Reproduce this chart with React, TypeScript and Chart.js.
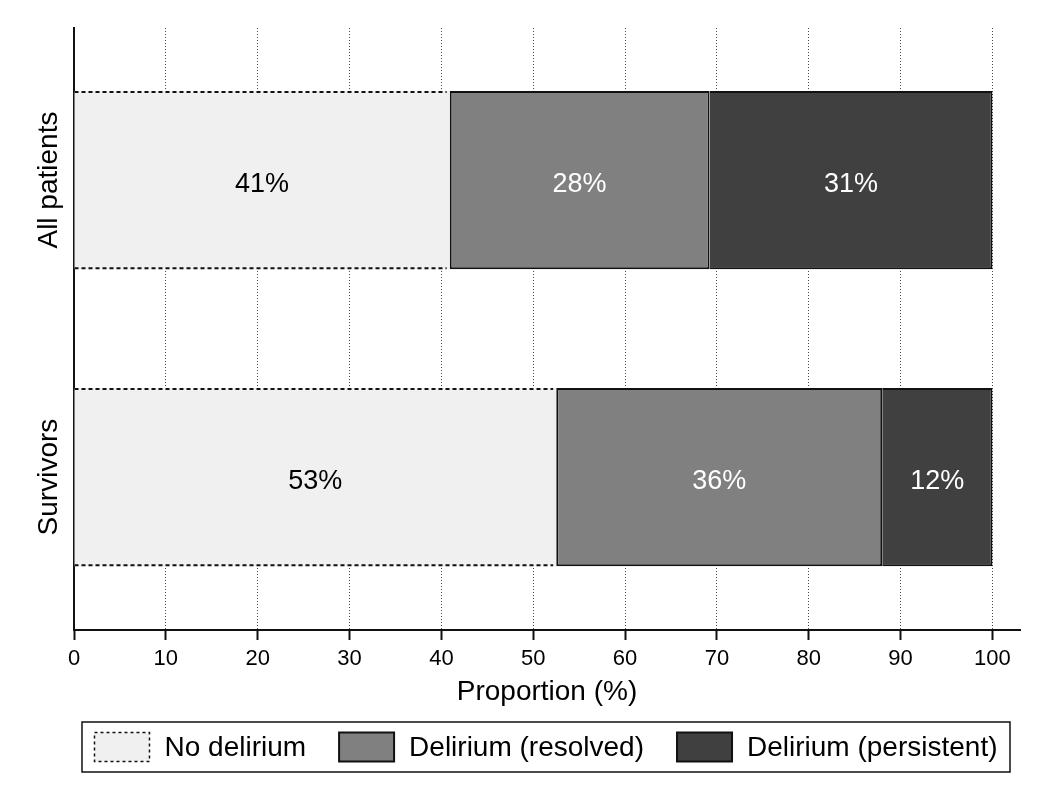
import React, { useEffect, useRef } from 'react';
import { Chart, registerables } from 'chart.js';

Chart.register(...registerables);

const categories = ['All patients', 'Survivors'];
const seriesNames = ['No delirium', 'Delirium (resolved)', 'Delirium (persistent)'];
const noDelirium = [40.9, 52.5];
const resolved = [28.3, 35.5];
const persistent = [30.8, 12.0];
const xTickValues = [0, 10, 20, 30, 40, 50, 60, 70, 80, 90, 100];
const seriesColors = ['#f0f0f0', '#808080', '#404040'];
const labelColors = ['#000000', '#ffffff', '#ffffff'];

const FONT = "'Liberation Sans', Arial, Helvetica, sans-serif";
const INK = '#111111';

const dashedBarPlugin = {
  id: 'dashedBar',
  afterDatasetsDraw(chart: any) {
    const ctx = chart.ctx;
    const meta = chart.getDatasetMeta(0);
    ctx.save();
    ctx.strokeStyle = INK;
    ctx.lineWidth = 2;
    ctx.setLineDash([4, 3]);
    meta.data.forEach((el: any) => {
      const p = el.getProps(['x', 'y', 'base', 'height'], true);
      const top = p.y - p.height / 2 + 1;
      const bot = p.y + p.height / 2 - 1;
      const left = Math.min(p.base, p.x);
      const right = Math.max(p.base, p.x) - 3;
      ctx.beginPath();
      ctx.moveTo(left, top);
      ctx.lineTo(right, top);
      ctx.moveTo(left, bot);
      ctx.lineTo(right, bot);
      ctx.stroke();
    });
    ctx.restore();
  },
};

const valueLabelPlugin = {
  id: 'valueLabels',
  afterDatasetsDraw(chart: any) {
    const ctx = chart.ctx;
    ctx.save();
    ctx.font = `27px ${FONT}`;
    ctx.textAlign = 'center';
    ctx.textBaseline = 'middle';
    chart.data.datasets.forEach((ds: any, di: number) => {
      const meta = chart.getDatasetMeta(di);
      meta.data.forEach((el: any, i: number) => {
        const p = el.getProps(['x', 'y', 'base'], true);
        ctx.fillStyle = labelColors[di];
        ctx.fillText(Math.round(ds.data[i]) + '%', (p.x + p.base) / 2, p.y + 4);
      });
    });
    ctx.restore();
  },
};

const categoryLabelPlugin = {
  id: 'categoryLabels',
  afterDraw(chart: any) {
    const ctx = chart.ctx;
    const yScale = chart.scales.y;
    ctx.save();
    ctx.font = `28px ${FONT}`;
    ctx.fillStyle = '#000';
    ctx.textAlign = 'center';
    ctx.textBaseline = 'middle';
    categories.forEach((c, i) => {
      const y = yScale.getPixelForValue(i);
      ctx.save();
      ctx.translate(chart.chartArea.left - 25, y);
      ctx.rotate(-Math.PI / 2);
      ctx.fillText(c, 0, 0);
      ctx.restore();
    });
    ctx.restore();
  },
};

const boxLegendPlugin = {
  id: 'boxLegend',
  afterDraw(chart: any) {
    const ctx = chart.ctx;
    const area = chart.chartArea;
    const xScale = chart.scales.x;
    const left = area.left + 8;
    const right = area.right - 10;
    const top = xScale.bottom + 10;
    const height = 50;
    ctx.save();
    ctx.strokeStyle = INK;
    ctx.lineWidth = 1.5;
    ctx.setLineDash([]);
    ctx.strokeRect(left, top, right - left, height);

    ctx.font = `28px ${FONT}`;
    const boxW = 55;
    const boxH = 29;
    const textGap = 15;
    const itemGap = 33;
    const widths = chart.data.datasets.map((ds: any) => boxW + textGap + ctx.measureText(ds.label).width);
    const total = widths.reduce((a: number, b: number) => a + b, 0) + itemGap * (widths.length - 1);
    let x = (left + right) / 2 - total / 2;
    const cy = top + height / 2;
    chart.data.datasets.forEach((ds: any, i: number) => {
      ctx.fillStyle = ds.backgroundColor;
      ctx.fillRect(x, cy - boxH / 2, boxW, boxH);
      ctx.strokeStyle = INK;
      ctx.lineWidth = i === 0 ? 1.5 : 2;
      ctx.setLineDash(i === 0 ? [3, 3] : []);
      ctx.strokeRect(x, cy - boxH / 2, boxW, boxH);
      ctx.setLineDash([]);
      ctx.fillStyle = '#000';
      ctx.textAlign = 'left';
      ctx.textBaseline = 'middle';
      ctx.fillText(ds.label, x + boxW + textGap, cy + 1);
      x += widths[i] + itemGap;
    });
    ctx.restore();
  },
};

export default function App() {
  const canvasRef = useRef<HTMLCanvasElement | null>(null);

  useEffect(() => {
    if (!canvasRef.current) return;
    const chart = new Chart(canvasRef.current, {
      type: 'bar',
      data: {
        labels: categories,
        datasets: [
          {
            label: seriesNames[0],
            data: noDelirium,
            backgroundColor: seriesColors[0],
            borderWidth: 0,
            barPercentage: 0.6,
            categoryPercentage: 1,
          },
          {
            label: seriesNames[1],
            data: resolved,
            backgroundColor: seriesColors[1],
            borderColor: INK,
            borderWidth: { top: 2, bottom: 2, left: 2, right: 2 },
            borderSkipped: false,
            barPercentage: 0.6,
            categoryPercentage: 1,
          },
          {
            label: seriesNames[2],
            data: persistent,
            backgroundColor: seriesColors[2],
            borderColor: INK,
            borderWidth: { top: 2, bottom: 2, left: 0, right: 2 },
            borderSkipped: false,
            barPercentage: 0.6,
            categoryPercentage: 1,
          },
        ],
      },
      options: {
        indexAxis: 'y',
        responsive: true,
        maintainAspectRatio: false,
        animation: false,
        layout: { padding: { top: 20, right: 22, bottom: 85, left: 0 } },
        plugins: {
          legend: { display: false },
          tooltip: { enabled: false },
          title: { display: false },
        },
        scales: {
          x: {
            type: 'linear',
            stacked: true,
            min: 0,
            max: 103,
            afterBuildTicks: (scale: any) => {
              scale.ticks = xTickValues.map((v) => ({ value: v }));
            },
            afterFit: (scale: any) => {
              scale.height = 82;
            },
            ticks: {
              color: '#000',
              font: { family: FONT, size: 22 },
              padding: 6,
              maxRotation: 0,
              autoSkip: false,
            },
            grid: {
              display: true,
              drawOnChartArea: true,
              drawTicks: true,
              color: '#4a4a4a',
              lineWidth: 1,
              tickLength: 10,
              tickColor: INK,
              tickWidth: 2,
            },
            border: { display: true, color: INK, width: 2, dash: [1, 2] },
            title: {
              display: true,
              text: 'Proportion (%)',
              color: '#000',
              font: { family: FONT, size: 28 },
              padding: { top: 2, bottom: 3 },
            },
          },
          y: {
            type: 'category',
            stacked: true,
            offset: false,
            afterFit: (scale: any) => {
              scale.width = 66;
              if (!scale.__patched) {
                const orig = scale.configure;
                scale.configure = function () {
                  orig.call(this);
                  this._startValue = -0.512;
                  this._valueRange = 2.027;
                };
                scale.__patched = true;
              }
            },
            ticks: { display: false },
            grid: { display: false, drawTicks: false },
            border: { display: true, color: INK, width: 2 },
          },
        },
      },
      plugins: [dashedBarPlugin, valueLabelPlugin, categoryLabelPlugin, boxLegendPlugin],
    } as any);
    return () => chart.destroy();
  }, []);

  return (
    <div style={{ width: 1034, height: 789, position: 'relative' }}>
      <canvas ref={canvasRef} />
    </div>
  );
}
